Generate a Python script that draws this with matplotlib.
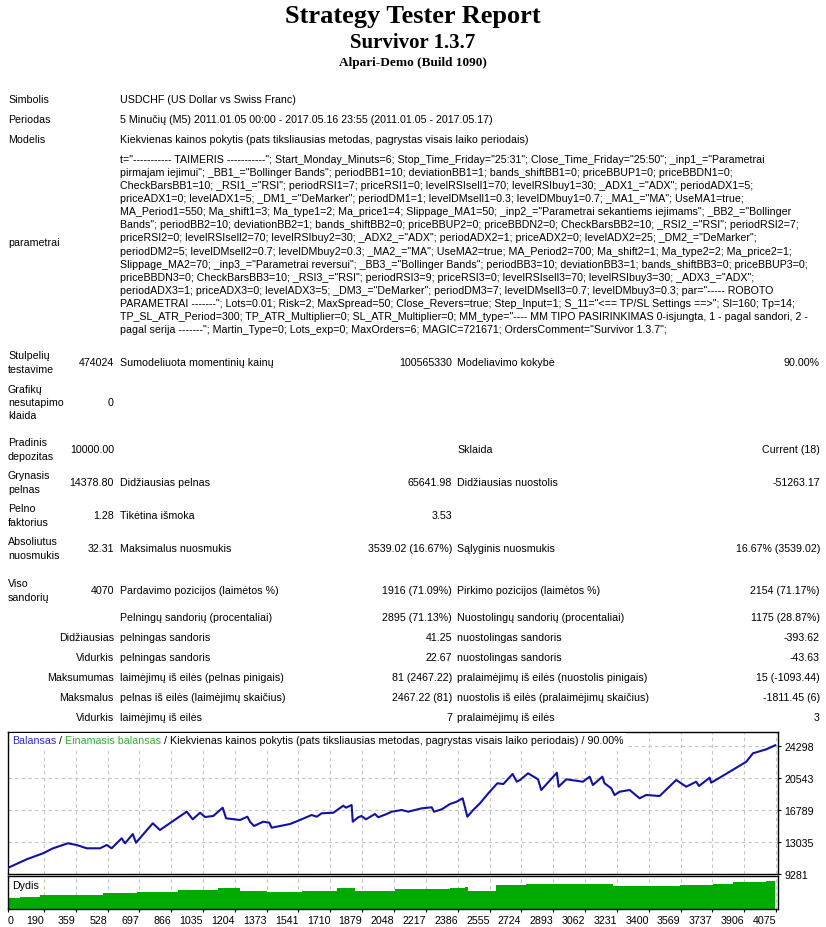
import matplotlib
matplotlib.use('Agg')
import matplotlib.pyplot as plt
from matplotlib.patches import Rectangle

W, H = 826, 928
FONT = 'Liberation Sans'
SERIF = 'Liberation Serif'
FS = 7.7

# ---- report text ----
title_lines = ["Strategy Tester Report", "Survivor 1.3.7", "Alpari-Demo (Build 1090)"]

info_labels = ["Simbolis", "Periodas", "Modelis"]
info_values = [
    "USDCHF (US Dollar vs Swiss Franc)",
    "5 Minučių (M5) 2011.01.05 00:00 - 2017.05.16 23:55 (2011.01.05 - 2017.05.17)",
    "Kiekvienas kainos pokytis (pats tiksliausias metodas, pagrystas visais laiko periodais)",
]

param_lines = [
    't="----------- TAIMERIS -----------"; Start_Monday_Minuts=6; Stop_Time_Friday="25:31"; Close_Time_Friday="25:50"; _inp1_="Parametrai',
    'pirmajam iejimui"; _BB1_="Bollinger Bands"; periodBB1=10; deviationBB1=1; bands_shiftBB1=0; priceBBUP1=0; priceBBDN1=0;',
    'CheckBarsBB1=10; _RSI1_="RSI"; periodRSI1=7; priceRSI1=0; levelRSIsell1=70; levelRSIbuy1=30; _ADX1_="ADX"; periodADX1=5;',
    'priceADX1=0; levelADX1=5; _DM1_="DeMarker"; periodDM1=1; levelDMsell1=0.3; levelDMbuy1=0.7; _MA1_="MA"; UseMA1=true;',
    'MA_Period1=550; Ma_shift1=3; Ma_type1=2; Ma_price1=4; Slippage_MA1=50; _inp2_="Parametrai sekantiems iejimams"; _BB2_="Bollinger',
    'Bands"; periodBB2=10; deviationBB2=1; bands_shiftBB2=0; priceBBUP2=0; priceBBDN2=0; CheckBarsBB2=10; _RSI2_="RSI"; periodRSI2=7;',
    'priceRSI2=0; levelRSIsell2=70; levelRSIbuy2=30; _ADX2_="ADX"; periodADX2=1; priceADX2=0; levelADX2=25; _DM2_="DeMarker";',
    'periodDM2=5; levelDMsell2=0.7; levelDMbuy2=0.3; _MA2_="MA"; UseMA2=true; MA_Period2=700; Ma_shift2=1; Ma_type2=2; Ma_price2=1;',
    'Slippage_MA2=70; _inp3_="Parametrai reversui"; _BB3_="Bollinger Bands"; periodBB3=10; deviationBB3=1; bands_shiftBB3=0; priceBBUP3=0;',
    'priceBBDN3=0; CheckBarsBB3=10; _RSI3_="RSI"; periodRSI3=9; priceRSI3=0; levelRSIsell3=70; levelRSIbuy3=30; _ADX3_="ADX";',
    'periodADX3=1; priceADX3=0; levelADX3=5; _DM3_="DeMarker"; periodDM3=7; levelDMsell3=0.7; levelDMbuy3=0.3; par="----- ROBOTO',
    'PARAMETRAI -------"; Lots=0.01; Risk=2; MaxSpread=50; Close_Revers=true; Step_Input=1; S_11="<== TP/SL Settings ==>"; Sl=160; Tp=14;',
    'TP_SL_ATR_Period=300; TP_ATR_Multiplier=0; SL_ATR_Multiplier=0; MM_type="---- MM TIPO PASIRINKIMAS 0-isjungta, 1 - pagal sandori, 2 -',
    'pagal serija -------"; Martin_Type=0; Lots_exp=0; MaxOrders=6; MAGIC=721671; OrdersComment="Survivor 1.3.7";',
]

stat_labels = [["Stulpelių", "testavime"], ["Grafikų", "nesutapimo", "klaida"], ["Pradinis", "depozitas"],
               ["Grynasis", "pelnas"], ["Pelno", "faktorius"], ["Absoliutus", "nuosmukis"], ["Viso", "sandorių"]]
stat_values = ["474024", "0", "10000.00", "14378.80", "1.28", "32.31", "4070"]
mid_labels = ["Sumodeliuota momentinių kainų", "", "", "Didžiausias pelnas", "Tikėtina išmoka",
              "Maksimalus nuosmukis", "Pardavimo pozicijos (laimėtos %)"]
mid_values = ["100565330", "", "", "65641.98", "3.53", "3539.02 (16.67%)", "1916 (71.09%)"]
right_labels = ["Modeliavimo kokybė", "", "Sklaida", "Didžiausias nuostolis", "", "Sąlyginis nuosmukis",
                "Pirkimo pozicijos (laimėtos %)"]
right_values = ["90.00%", "", "Current (18)", "-51263.17", "", "16.67% (3539.02)", "2154 (71.17%)"]

trade_heads = ["", "Didžiausias", "Vidurkis", "Maksumumas", "Maksmalus", "Vidurkis"]
trade_mid = ["Pelningų sandorių (procentaliai)", "pelningas sandoris", "pelningas sandoris",
             "laimėjimų iš eilės (pelnas pinigais)", "pelnas iš eilės (laimėjimų skaičius)", "laimėjimų iš eilės"]
trade_mid_vals = ["2895 (71.13%)", "41.25", "22.67", "81 (2467.22)", "2467.22 (81)", "7"]
trade_right = ["Nuostolingų sandorių (procentaliai)", "nuostolingas sandoris", "nuostolingas sandoris",
               "pralaimėjimų iš eilės (nuostolis pinigais)", "nuostolis iš eilės (pralaimėjimų skaičius)",
               "pralaimėjimų iš eilės"]
trade_right_vals = ["1175 (28.87%)", "-393.62", "-43.63", "15 (-1093.44)", "-1811.45 (6)", "3"]

# ---- chart data ----
trades = [0, 99, 186, 239, 318, 364, 418, 488, 524, 550, 603, 621, 662, 679, 768, 806, 948, 980, 1019, 1045,
          1089, 1139, 1157,
          1231, 1270, 1284, 1305, 1354, 1386, 1399, 1443, 1496, 1540, 1611, 1638, 1664, 1726, 1779, 1793, 1823,
          1829, 1858, 1876, 1899, 1947, 1964, 2009, 2036, 2089, 2124, 2195, 2248, 2260, 2301, 2345, 2380, 2412,
          2437, 2468, 2504, 2548, 2596, 2628, 2677, 2699, 2716,
          2759, 2812, 2829, 2912, 2921, 2962, 3050, 3086, 3103, 3153, 3165, 3200, 3218, 3245, 3298, 3351, 3386,
          3457, 3545, 3598, 3651, 3666, 3722, 3731, 3829, 3917, 3952, 4023, 4070]
balance = [10000, 11005, 11709, 12296, 12882, 12683, 12296, 12296, 12683, 12296, 13469, 12882, 13973, 12952,
           15228, 14442, 16589, 15697, 16471, 15967, 16085, 17058, 15815,
           15615, 16002, 15416, 14911, 15416, 15299, 14712, 14911, 15146, 15533, 16202, 16002, 16401, 16471,
           17293, 17058, 17375, 15416, 15932, 16085, 15697, 16319, 15932, 16319, 16589, 16788, 16589, 16988,
           17105, 16589, 16870, 17492, 17762, 18161, 16002, 16788, 17574, 18747, 19920, 19838, 21011, 20108,
           20307,
           21093, 20389, 19134, 21164, 19521, 20389, 20108, 20694, 19721, 20694, 19920, 19334, 18548, 18935,
           19134, 18161, 18548, 18430, 20307, 19521, 20108, 19603, 20577, 19991, 21281, 22454, 23439, 23908,
           24379]

vol_trades = [0, 64, 170, 286, 504, 663, 684, 769, 902, 1019, 1114, 1231, 1374, 1560, 1745, 1825, 1841, 2053,
              2345, 2424, 2440, 2589, 2748, 2907, 3088, 3210, 3385, 3491, 3565, 3740, 3846, 3915, 4021, 4070]
vol_lots = [0.11, 0.12, 0.14, 0.14, 0.16, 0.16, 0.17, 0.17, 0.19, 0.19, 0.21, 0.18, 0.17, 0.18, 0.21, 0.21,
            0.18, 0.20, 0.21, 0.22, 0.18, 0.24, 0.25, 0.25, 0.25, 0.23, 0.23, 0.23, 0.24, 0.25, 0.27, 0.27,
            0.28, 0.29]

x_ticks = [0, 190, 359, 528, 697, 866, 1035, 1204, 1373, 1541, 1710, 1879, 2048, 2217, 2386, 2555, 2724,
           2893, 3062, 3231, 3400, 3569, 3737, 3906, 4075]
y_ticks = [9281, 13035, 16789, 20543, 24298]

legend_parts = [("Balansas", '#2a2ac8'), (" /", 'black'), (" Einamasis balansas", '#2fb02f'),
                (" / Kiekvienas kainos pokytis (pats tiksliausias metodas, pagrystas visais laiko periodais) / 90.00%",
                 'black')]

BLUE = '#1212a2'
GREEN = '#00aa00'
GRID = '#c4c4c4'

fig = plt.figure(figsize=(W / 100, H / 100), dpi=100)
fig.patch.set_facecolor('white')


def put(x, y, s, ha='left', size=FS, **kw):
    return fig.text(x / W, 1 - y / H, s, ha=ha, va='center', fontsize=size,
                    family=kw.pop('family', FONT), **kw)


# titles
put(413, 16, title_lines[0], ha='center', size=19, family=SERIF, weight='bold')
put(413, 43, title_lines[1], ha='center', size=15, family=SERIF, weight='bold')
put(413, 63, title_lines[2], ha='center', size=9.5, family=SERIF, weight='bold')

# general info
for i, (lab, val) in enumerate(zip(info_labels, info_values)):
    y = 100 + 20 * i
    put(8, y, lab)
    put(120, y, val)

put(8, 243, "parametrai")
for i, line in enumerate(param_lines):
    put(120, 160 + 13.08 * i, line)

# summary block
stat_y = [363, 403, 450, 483, 516, 549, 591]
for y, labs, v, ml, mv, rl, rv in zip(stat_y, stat_labels, stat_values, mid_labels, mid_values,
                                       right_labels, right_values):
    n = len(labs)
    for k, lab in enumerate(labs):
        put(8, y + (k - (n - 1) / 2) * 13.3, lab)
    put(114, y, v, ha='right')
    if ml:
        put(120, y, ml)
    if mv:
        put(452, y, mv, ha='right')
    if rl:
        put(457, y, rl)
    if rv:
        put(820, y, rv, ha='right')

trade_y = [618, 638, 658, 678, 698, 718]
for y, hd, ml, mv, rl, rv in zip(trade_y, trade_heads, trade_mid, trade_mid_vals, trade_right, trade_right_vals):
    if hd:
        put(114, y, hd, ha='right')
    put(120, y, ml)
    put(452, y, mv, ha='right')
    put(457, y, rl)
    put(820, y, rv, ha='right')

# ---- balance chart ----
L, R = 8, 778
ax = fig.add_axes([L / W, 1 - 875 / H, (R - L) / W, (875 - 733) / H])
ax.plot(trades, balance, color=BLUE, lw=1.5, zorder=3)
ax.set_xlim(0, 4085)
ax.set_ylim(9281, 25938)
ax.set_xticks(x_ticks[1:])
ax.set_yticks(y_ticks)
ax.set_yticklabels([str(v) for v in y_ticks])
ax.yaxis.tick_right()
ax.tick_params(axis='x', length=0, labelbottom=False)
ax.tick_params(axis='y', length=2.5, width=0.8, pad=2, labelsize=FS, direction='out')
for lbl in ax.get_yticklabels():
    lbl.set_family(FONT)
ax.grid(True, color=GRID, ls=(0, (3, 3)), lw=0.8, zorder=0)
for sp in ax.spines.values():
    sp.set_color('black')
    sp.set_linewidth(1.0)

# volume panel
ax2 = fig.add_axes([L / W, 1 - 910 / H, (R - L) / W, (910 - 877) / H])
ax2.fill_between(vol_trades, vol_lots, step='post', color=GREEN, lw=0, zorder=2)
ax2.set_xlim(0, 4085)
ax2.set_ylim(0, 0.33)
ax2.set_yticks([])
ax2.set_xticks(x_ticks)
ax2.set_xticklabels([str(v) for v in x_ticks])
ax2.tick_params(axis='x', length=2.5, width=0.8, pad=2, labelsize=FS, direction='out')
for i, lbl in enumerate(ax2.get_xticklabels()):
    lbl.set_family(FONT)
    lbl.set_ha('left' if i == 0 else 'right')
ax2.grid(True, axis='x', color=GRID, ls=(0, (3, 3)), lw=0.8, zorder=0)
for sp in ax2.spines.values():
    sp.set_color('black')
    sp.set_linewidth(1.0)
ax2.text(0.006, 0.72, "Dydis", transform=ax2.transAxes, fontsize=FS, family=FONT, va='center')

# chart legend line: coloured pieces placed by measured prefix width, on a white strip
fig.canvas.draw()
renderer = fig.canvas.get_renderer()


def text_width(s):
    probe = put(0, 741, s)
    w = probe.get_window_extent(renderer=renderer).width
    probe.remove()
    return w


full_w = text_width("".join(p for p, _ in legend_parts))
fig.patches.append(Rectangle((10 / W, 1 - 749 / H), (full_w + 4) / W, 15 / H, transform=fig.transFigure,
                             facecolor='white', edgecolor='none', zorder=9))
prefix = ""
for txt, col in legend_parts:
    dx = text_width(prefix) if prefix else 0
    t = put(12 + dx, 741, txt, color=col)
    t.set_zorder(10)
    prefix += txt

fig.savefig('out.png', dpi=100, facecolor='white')
